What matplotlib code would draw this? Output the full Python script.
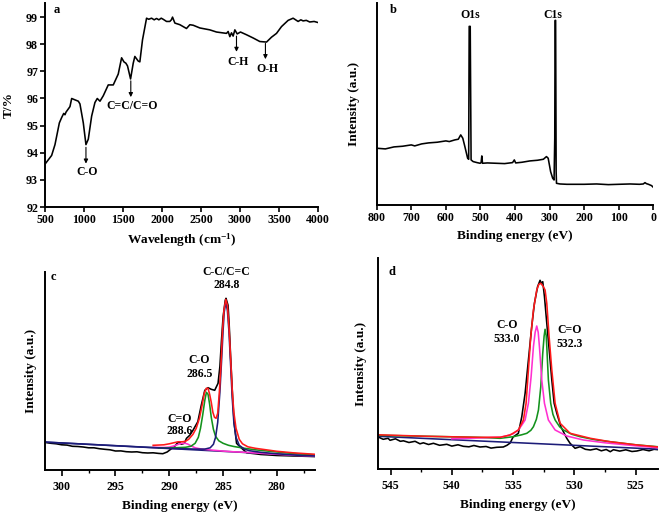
import matplotlib
matplotlib.use("Agg")
import matplotlib.pyplot as plt
from matplotlib.ticker import MultipleLocator

plt.rcParams['font.family'] = ['Liberation Serif', 'DejaVu Serif']
plt.rcParams['font.weight'] = 'bold'
plt.rcParams['mathtext.fontset'] = 'custom'
plt.rcParams['mathtext.bf'] = 'Liberation Serif:bold'
plt.rcParams['mathtext.rm'] = 'Liberation Serif:bold'
plt.rcParams['mathtext.default'] = 'bf'

# ---------------- data ----------------
# (a) FTIR
ftir = [(500, 93.58), (585, 93.9), (628, 94.3), (684, 95.1), (714, 95.3), (740, 95.45),
        (756, 95.4), (770, 95.5), (820, 95.7), (842, 96.0), (884, 95.95), (927, 95.9),
        (948, 95.8), (991, 95.1), (1025, 94.3), (1055, 94.5), (1098, 95.35), (1140, 95.85),
        (1170, 96.0), (1205, 95.9), (1247, 96.1), (1311, 96.5), (1375, 96.5), (1439, 96.9),
        (1482, 97.5), (1512, 97.35), (1537, 97.3), (1558, 97.2), (1597, 96.72), (1631, 97.3),
        (1652, 97.55), (1695, 97.38), (1716, 97.35), (1750, 98.16), (1802, 98.96), (1830, 98.92),
        (1866, 98.96), (1900, 98.9), (1930, 98.95), (1960, 98.9), (1990, 98.96), (2015, 98.92),
        (2058, 98.84), (2100, 98.84), (2120, 98.9), (2135, 99.0), (2165, 98.78), (2229, 98.72),
        (2314, 98.58), (2357, 98.72), (2400, 98.7), (2485, 98.6), (2613, 98.53), (2699, 98.45),
        (2827, 98.4), (2848, 98.47), (2870, 98.28), (2891, 98.42), (2912, 98.3), (2934, 98.53),
        (2964, 98.38), (3006, 98.45), (3083, 98.35), (3169, 98.23), (3254, 98.1), (3340, 98.08),
        (3404, 98.26), (3468, 98.4), (3532, 98.65), (3617, 98.88), (3681, 98.96), (3745, 98.84),
        (3780, 98.9), (3809, 98.86), (3850, 98.88), (3894, 98.82), (3950, 98.84), (4000, 98.8)]
ftir_bands = [("C-O", 1025), ("C=C/C=O", 1600), ("C-H", 2955), ("O-H", 3326)]

# (b) XPS survey
survey = [(800, 170), (775, 168), (750, 174), (725, 176), (700, 180), (690, 177), (670, 183),
          (650, 186), (625, 188), (600, 192), (590, 190), (574, 195), (564, 197), (557, 210),
          (551, 200), (545, 175), (537, 140), (534, 137), (532.5, 535), (529.5, 535), (527, 135),
          (521, 130), (510, 127), (501, 125), (498, 127), (496, 147), (494, 125), (480, 126),
          (455, 125), (430, 124), (407, 127), (402, 135), (398, 126), (380, 128), (357, 132),
          (335, 134), (318, 137), (309, 145), (304, 140), (297, 100), (291, 80), (287, 75),
          (285, 200), (284, 553), (282.5, 553), (281, 100), (280, 65), (270, 63), (250, 62),
          (200, 62), (164, 63), (130, 61), (100, 62), (67, 63), (40, 62), (29, 63), (24, 67),
          (20, 64), (14, 62), (5, 58), (0, 53)]
survey_peaks = [("O1s", 530), ("C1s", 291)]

# (c) C1s high resolution
c_raw = [(301.5, 27.8), (301.0, 27), (300.5, 26.5), (300.0, 25.5), (299.5, 25.2), (299.0, 24),
         (298.5, 23.8), (298.0, 23.3), (297.5, 22.5), (297.0, 22.5), (296.5, 21.6), (296.0, 21.0),
         (295.5, 20.5), (295.0, 19.3), (294.5, 19.4), (294.0, 18.6), (293.5, 18.3), (293.0, 18.5),
         (292.5, 17.6), (292.0, 17.3), (291.5, 17.5), (291.0, 16.9), (290.6, 16.6), (290.2, 18.3),
         (289.8, 21.6), (289.5, 24), (289.3, 26.6), (289.06, 28.6), (288.9, 26), (288.6, 27),
         (288.4, 32), (288.1, 35), (287.8, 40), (287.35, 48.6), (287.03, 65), (286.7, 80),
         (286.4, 82.6), (286.1, 81), (285.78, 80), (285.47, 87), (285.3, 103.6), (285.15, 130),
         (285.0, 153.6), (284.8, 170), (284.73, 172), (284.54, 165), (284.44, 147), (284.3, 113.6),
         (284.1, 70), (283.97, 47), (283.75, 27), (283.44, 23.6), (282.8, 17.5), (282.0, 16.5),
         (281.5, 15.8), (281.0, 15.5), (280.0, 14.8), (279.0, 14.5), (278.0, 14.2), (277.0, 13.9),
         (276.5, 13.7)]
c_bg = [(301.55, 28.2), (276.46, 14.2)]
c_cc = [(301.55, 28.2), (292, 23), (290, 22), (288.5, 21.5), (287.5, 21.2), (286.7, 21.2),
        (286.2, 22.5), (285.9, 26), (285.7, 33), (285.5, 48), (285.3, 78), (285.15, 108),
        (285.0, 140), (284.9, 158), (284.75, 168), (284.6, 160), (284.45, 138), (284.3, 105),
        (284.15, 72), (284.0, 48), (283.8, 33), (283.5, 25), (283.0, 21), (282.5, 19.5),
        (281.5, 18), (280.0, 16.5), (278.0, 15), (276.46, 14.3)]
c_co = [(291, 22.3), (289.5, 22.5), (288.5, 23), (288.0, 24), (287.6, 27), (287.3, 33),
        (287.1, 42), (286.9, 55), (286.7, 70), (286.55, 78), (286.4, 76), (286.25, 66),
        (286.1, 53), (285.9, 41), (285.7, 34), (285.4, 29.5), (285.0, 27), (284.5, 25),
        (284.0, 23.8), (283.0, 22), (282.0, 20.5), (280.5, 18.8), (278.5, 16.8), (276.46, 15.5)]
c_c_eq_o = [(291.5, 23.0), (290.5, 22.8), (290.0, 23.2), (289.6, 24.3), (289.2, 25.8),
            (288.9, 26.8), (288.6, 27.2), (288.3, 26.3), (288.0, 24.5), (287.6, 22.5),
            (287.0, 21.2), (286.0, 20.2), (285.0, 19.2), (284.0, 18.5), (283.0, 18.0),
            (281.5, 17.0), (280.0, 16.0), (278.0, 14.8), (276.46, 14.2)]
c_fit = [(291.5, 25), (290.5, 25.5), (290.0, 26.5), (289.6, 27.5), (289.2, 28.5), (288.8, 28.5),
         (288.5, 29), (288.2, 31), (287.8, 36), (287.5, 42), (287.2, 52), (286.95, 65),
         (286.75, 77), (286.56, 82), (286.4, 82), (286.25, 76), (286.1, 68), (285.95, 58),
         (285.8, 53), (285.65, 52), (285.5, 57), (285.35, 78), (285.2, 105), (285.05, 140),
         (284.92, 160), (284.75, 171), (284.6, 165), (284.45, 143), (284.3, 112), (284.15, 80),
         (284.0, 58), (283.8, 42), (283.5, 31), (283.2, 26.5), (282.7, 23.5), (282.0, 22),
         (281.0, 20.5), (280.0, 19), (278.5, 17.5), (276.46, 16)]

# (d) O1s high resolution
d_raw = [(546.0, 32.3), (545.6, 30), (545.2, 31), (545.04, 29), (544.6, 30.5), (544.2, 28),
         (543.95, 28.5), (543.5, 26.8), (543.0, 28), (542.6, 25.5), (542.32, 26.5), (541.9, 24.8),
         (541.5, 26), (541.0, 24), (540.41, 25), (540.0, 23.2), (539.5, 24.5), (539.06, 23),
         (538.6, 22.5), (538.2, 23.8), (537.7, 22.3), (537.2, 22.8), (536.8, 21.2), (536.33, 22),
         (535.8, 22.3), (535.5, 24), (535.24, 26.3), (535.0, 32.3), (534.57, 36), (534.29, 52.6),
         (534.02, 76), (533.75, 109.3), (533.48, 142.6), (533.26, 166), (533.0, 182.6),
         (532.8, 189), (532.7, 186), (532.58, 187.6), (532.44, 172.6), (532.25, 146),
         (532.03, 116), (531.84, 89.3), (531.65, 66), (531.43, 56), (531.1, 42.6), (530.62, 31),
         (530.35, 26), (529.94, 21), (529.53, 22.6), (529.1, 20), (528.7, 19.3), (528.2, 20.5),
         (527.8, 18.5), (527.4, 19.8), (527.07, 17.6), (526.81, 19.6), (526.3, 18.2),
         (525.8, 19.5), (525.3, 17.8), (524.9, 18.3), (524.4, 19.8), (523.9, 18.5),
         (523.5, 20), (523.15, 19.6)]
d_bg = [(546.0, 33), (523.15, 20.1)]
d_c_eq_o = [(546.0, 34), (542, 33), (538, 32), (536.06, 31), (534.98, 32.6), (534.3, 34.5),
            (533.88, 36), (533.55, 39), (533.34, 42.6), (533.1, 50), (532.93, 59.3),
            (532.74, 82.6), (532.58, 116), (532.47, 133), (532.39, 140), (532.3, 134),
            (532.25, 122.6), (532.12, 89.3), (531.93, 66), (531.75, 55), (531.57, 49.3),
            (531.2, 42.5), (530.89, 39.3), (530.2, 35), (529.53, 32.6), (528.3, 29.5),
            (527.1, 27.6), (525.0, 24.5), (523.15, 22.5)]
d_co = [(540, 30.5), (537.5, 31.5), (536.0, 32.2), (535.5, 33.6), (535.0, 35.5), (534.57, 39.3),
        (534.3, 44), (534.02, 49.3), (533.75, 66), (533.53, 92.6), (533.34, 122.6),
        (533.2, 137), (533.07, 143.3), (532.95, 137), (532.85, 122.6), (532.66, 89.3),
        (532.44, 66), (532.12, 49.3), (531.57, 39.3), (530.62, 33.3), (529.26, 29.3),
        (527.5, 26.5), (525.0, 23.5), (523.15, 21.5)]
d_fit = [(546.0, 34.5), (542, 33), (538, 32), (536.06, 32), (535.24, 34.3), (534.57, 39.3),
         (534.16, 49.3), (533.94, 66), (533.75, 99.3), (533.56, 132.6), (533.34, 159.3),
         (533.07, 179.3), (532.9, 185), (532.74, 186), (532.55, 183), (532.39, 179.3),
         (532.25, 166), (532.06, 132.6), (531.84, 99.3), (531.57, 66), (531.16, 46),
         (530.35, 36), (528.7, 31), (527.1, 27.6), (525.0, 24.5), (523.15, 22.3)]


def xy(pts):
    return [p[0] for p in pts], [p[1] for p in pts]


# ---------------- figure ----------------
W, H = 661, 514
fig = plt.figure(figsize=(W / 100, H / 100), dpi=100)


def box(l, r, t, b):
    return [l / W, 1 - b / H, (r - l) / W, (b - t) / H]


ax_a = fig.add_axes(box(45, 318, 3, 207))
ax_b = fig.add_axes(box(376.7, 653.3, 3, 205))
ax_c = fig.add_axes(box(45, 315, 272, 470.3))
ax_d = fig.add_axes(box(378.3, 658.3, 258, 469.3))

TICK = 8.6
LAB = 9.6
ANN = 8.5
LW = 1.15

for ax in (ax_a, ax_b, ax_c, ax_d):
    for s in ('top', 'right'):
        ax.spines[s].set_visible(False)
    for s in ('left', 'bottom'):
        ax.spines[s].set_linewidth(1.4)

# ---- (a)
x, y = xy(ftir)
ax_a.plot(x, y, color='black', lw=LW)
ax_a.set_xlim(500, 4000)
ax_a.set_ylim(92, 99.52)
ax_a.xaxis.set_major_locator(MultipleLocator(500))
ax_a.yaxis.set_major_locator(MultipleLocator(1))
ax_a.tick_params(direction='out', length=3.5, width=1.2, labelsize=TICK, pad=1.5)
ax_a.set_xlabel('Wavelength (cm$^{-1}$)', fontsize=LAB, fontweight='bold', labelpad=4)
ax_a.set_ylabel('T/%', fontsize=LAB, fontweight='bold', labelpad=8)
arrow_a = dict(arrowstyle='-|>', lw=0.8, color='black', mutation_scale=6, shrinkA=0, shrinkB=0)
band_arrows = {"C-O": (94.2, 93.6, 93.3), "C=C/C=O": (96.65, 96.05, 95.72),
               "C-H": (98.3, 97.72, 97.33), "O-H": (98.03, 97.45, 97.1)}
for name, wn in ftir_bands:
    y0, y1, yt = band_arrows[name]
    ax_a.annotate('', xy=(wn, y1), xytext=(wn, y0), arrowprops=arrow_a)
    ax_a.text(wn + 20, yt, name, ha='center', va='center', fontsize=ANN, fontweight='bold')
ax_a.text(655, 99.25, 'a', ha='center', va='center', fontsize=ANN + 0.5, fontweight='bold')

# ---- (b)
x, y = xy(survey)
ax_b.plot(x, y, color='black', lw=LW)
ax_b.set_xlim(800, 0)
ax_b.set_ylim(0, 605)
ax_b.xaxis.set_major_locator(MultipleLocator(100))
ax_b.set_yticks([])
ax_b.tick_params(axis='x', direction='out', length=3.5, width=1.2, labelsize=TICK, pad=1.5)
ax_b.set_xlabel('Binding energy (eV)', fontsize=LAB, fontweight='bold', labelpad=4)
ax_b.set_ylabel('Intensity (a.u.)', fontsize=LAB, fontweight='bold', labelpad=12)
for name, ev in survey_peaks:
    ax_b.text(ev, 570, name, ha='center', va='center', fontsize=ANN, fontweight='bold')
ax_b.text(752, 585, 'b', ha='center', va='center', fontsize=ANN + 0.5, fontweight='bold')

# ---- (c)
NAVY = '#1c1c78'
RED = '#ff1a1a'
GREEN = '#13921c'
MAGENTA = '#ff30d0'
x, y = xy(c_raw)
ax_c.plot(x, y, color='black', lw=LW)
for pts, col in ((c_bg, NAVY), (c_c_eq_o, MAGENTA), (c_co, GREEN), (c_cc, NAVY), (c_fit, RED)):
    x, y = xy(pts)
    ax_c.plot(x, y, color=col, lw=LW)
ax_c.set_xlim(301.55, 276.46)
ax_c.set_ylim(0, 198.3)
ax_c.xaxis.set_major_locator(MultipleLocator(5))
ax_c.xaxis.set_minor_locator(MultipleLocator(2.5))
ax_c.set_yticks([])
ax_c.tick_params(axis='x', which='major', direction='out', length=4, width=1.2, labelsize=TICK, pad=4)
ax_c.tick_params(axis='x', which='minor', direction='out', length=2.5, width=1.0)
ax_c.set_xlabel('Binding energy (eV)', fontsize=LAB, fontweight='bold', labelpad=5)
ax_c.set_ylabel('Intensity (a.u.)', fontsize=LAB, fontweight='bold', labelpad=6)
ax_c.text(300.8, 193, 'c', ha='center', va='center', fontsize=ANN + 0.5, fontweight='bold')
for txt, ex, iy in (('C-C/C=C', 284.7, 198), ('284.8', 284.7, 185),
                    ('C-O', 287.2, 110), ('286.5', 287.2, 96),
                    ('C=O', 289.06, 51), ('288.6', 289.06, 39)):
    ax_c.text(ex, iy, txt, ha='center', va='center', fontsize=ANN, fontweight='bold', clip_on=False)

# ---- (d)
x, y = xy(d_raw)
ax_d.plot(x, y, color='black', lw=LW)
for pts, col in ((d_bg, NAVY), (d_c_eq_o, GREEN), (d_co, MAGENTA), (d_fit, RED)):
    x, y = xy(pts)
    ax_d.plot(x, y, color=col, lw=LW)
ax_d.set_xlim(546.0, 523.15)
ax_d.set_ylim(0, 211.3)
ax_d.xaxis.set_major_locator(MultipleLocator(5))
ax_d.xaxis.set_minor_locator(MultipleLocator(2.5))
ax_d.set_yticks([])
ax_d.tick_params(axis='x', which='major', direction='out', length=4, width=1.2, labelsize=TICK, pad=4)
ax_d.tick_params(axis='x', which='minor', direction='out', length=2.5, width=1.0)
ax_d.set_xlabel('Binding energy (eV)', fontsize=LAB, fontweight='bold', labelpad=5)
ax_d.set_ylabel('Intensity (a.u.)', fontsize=LAB, fontweight='bold', labelpad=8)
ax_d.text(544.9, 197, 'd', ha='center', va='center', fontsize=ANN + 0.5, fontweight='bold')
for txt, ex, iy in (('C-O', 535.5, 144), ('533.0', 535.5, 130.6),
                    ('C=O', 530.4, 139), ('532.3', 530.4, 125)):
    ax_d.text(ex, iy, txt, ha='center', va='center', fontsize=ANN, fontweight='bold')

for ax in (ax_a, ax_b, ax_c, ax_d):
    for lab in ax.get_xticklabels() + ax.get_yticklabels():
        lab.set_fontweight('bold')

fig.savefig('out.png', dpi=100)
